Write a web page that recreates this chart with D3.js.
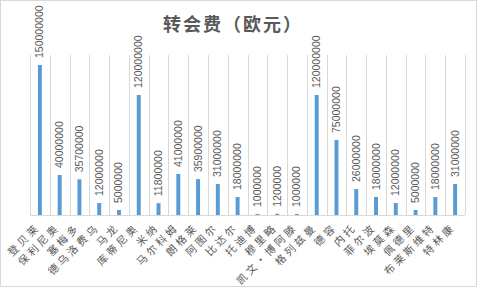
<!DOCTYPE html>
<html>
<head>
<meta charset="utf-8">
<script src="https://cdn.jsdelivr.net/npm/d3@7"></script>
<style>
	body { margin: 0; background: #fff; }
	svg { display: block; font-family: "Noto Sans CJK SC", "Liberation Sans", sans-serif; }
	.title { font-size: 18px; font-weight: bold; fill: #595959; letter-spacing: 2px; }
	.val { font-family: "Liberation Sans", sans-serif; font-size: 10.5px; fill: #595959; }
	.cat { font-size: 10.5px; fill: #595959; letter-spacing: 3px; }
</style>
</head>
<body>
<div id="chart"></div>
<script>
	// players and fees (euro)
	var players = ["登贝莱", "保利尼奥", "塞梅多", "德乌洛费乌", "马龙", "库蒂尼奥", "米纳", "马尔科姆",
		"朗格莱", "阿图尔", "比达尔", "托迪博", "穆里略", "凯文·博阿滕", "格列兹曼", "德容",
		"内托", "菲尔波", "埃莫森", "佩德里", "布莱斯维特", "特林康"];
	var fees = [150000000, 40000000, 35700000, 12000000, 5000000, 120000000, 11800000, 41000000,
		35900000, 31000000, 18000000, 1000000, 1200000, 1000000, 120000000, 75000000,
		26000000, 18000000, 12000000, 5000000, 18000000, 31000000];
	var yMax = 160000000;

	var width = 480, height = 288;
	var plotLeft = 30, plotRight = 465, plotTop = 55, plotBottom = 215;

	var svg = d3.select("#chart").append("svg")
		.attr("width", width)
		.attr("height", height);

	// chart border
	svg.append("rect")
		.attr("x", 0.5).attr("y", 0.5)
		.attr("width", 476).attr("height", 286)
		.attr("fill", "#fff")
		.attr("stroke", "#d9d9d9");

	var x = d3.scaleBand()
		.domain(players)
		.range([plotLeft, plotRight])
		.paddingInner(0.8)
		.paddingOuter(0.4);

	var y = d3.scaleLinear()
		.domain([0, yMax])
		.range([plotBottom, plotTop]);

	var step = x.step();

	// vertical gridlines between categories
	svg.append("g")
		.selectAll("line")
		.data(d3.range(players.length + 1))
		.enter()
		.append("line")
		.attr("x1", function(i) { return Math.round(plotLeft + i * step) + 0.5; })
		.attr("x2", function(i) { return Math.round(plotLeft + i * step) + 0.5; })
		.attr("y1", plotTop)
		.attr("y2", plotBottom)
		.attr("stroke", "#d9d9d9");

	svg.append("line")
		.attr("x1", plotLeft).attr("x2", plotRight)
		.attr("y1", plotBottom + 0.5).attr("y2", plotBottom + 0.5)
		.attr("stroke", "#d9d9d9");

	svg.append("g")
		.selectAll("rect")
		.data(fees)
		.enter()
		.append("rect")
		.attr("x", function(d, i) { return x(players[i]); })
		.attr("y", function(d) { return y(d); })
		.attr("width", x.bandwidth())
		.attr("height", function(d) { return plotBottom - y(d); })
		.attr("fill", "#5b9bd5");

	// value labels, rotated
	svg.append("g")
		.selectAll("text")
		.data(fees)
		.enter()
		.append("text")
		.classed("val", true)
		.attr("transform", function(d, i) {
			var cx = x(players[i]) + x.bandwidth() / 2 + 3.5;
			return "translate(" + cx + "," + (y(d) - 7) + ") rotate(-90)";
		})
		.text(function(d) { return d3.format("d")(d); });

	// category labels at 45 degrees
	svg.append("g")
		.selectAll("text")
		.data(players)
		.enter()
		.append("text")
		.classed("cat", true)
		.attr("text-anchor", "end")
		.attr("transform", function(d) {
			var cx = x(d) + x.bandwidth() / 2 + 1;
			return "translate(" + cx + "," + (plotBottom + 13) + ") rotate(-45)";
		})
		.text(function(d) { return d; });

	svg.append("text")
		.classed("title", true)
		.attr("x", 233)
		.attr("y", 31)
		.attr("text-anchor", "middle")
		.text("转会费（欧元）");
</script>
</body>
</html>
